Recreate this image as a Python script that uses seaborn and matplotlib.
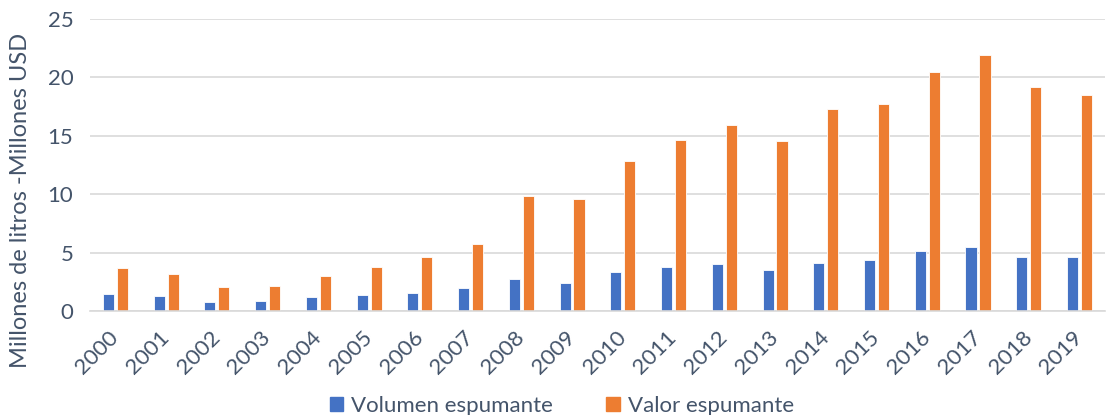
import pandas as pd
import matplotlib
matplotlib.use('Agg')
import matplotlib.pyplot as plt
import seaborn as sns
from matplotlib.patches import Patch

sns.set_style('white')
plt.rcParams['font.family'] = ['Lato', 'DejaVu Sans']

# datos
anios = ['2000', '2001', '2002', '2003', '2004', '2005', '2006', '2007', '2008', '2009',
         '2010', '2011', '2012', '2013', '2014', '2015', '2016', '2017', '2018', '2019']
volumen = [1.49, 1.32, 0.80, 0.83, 1.17, 1.40, 1.58, 1.95, 2.75, 2.43,
           3.32, 3.80, 4.00, 3.49, 4.09, 4.35, 5.12, 5.46, 4.60, 4.60]
valor = [3.66, 3.20, 2.03, 2.12, 3.03, 3.80, 4.60, 5.75, 9.86, 9.58,
         12.87, 14.64, 15.90, 14.55, 17.27, 17.75, 20.47, 21.90, 19.19, 18.52]
series = ['Volumen espumante', 'Valor espumante']
colores = ['#4472C4', '#ED7D31']
texto = '#44546A'

df = pd.DataFrame({
    'anio': anios * 2,
    'valor': volumen + valor,
    'serie': [series[0]] * len(anios) + [series[1]] * len(anios),
})

fig = plt.figure(figsize=(11.06, 4.15), dpi=100)
ax = fig.add_axes([0.0814, 0.2506, 0.9176, 0.7034])

sns.barplot(data=df, x='anio', y='valor', hue='serie', order=anios, hue_order=series,
            palette=colores, saturation=1, width=0.55, gap=0.2, edgecolor='white',
            linewidth=0.6, legend=False, ax=ax)

ax.set_ylim(0, 25)
ax.set_yticks(range(0, 26, 5))
ax.set_xlim(-0.5, len(anios) - 0.5)
ax.yaxis.grid(True, color='#D9D9D9', linewidth=1.2)
ax.set_axisbelow(True)
for s in ['top', 'right', 'left']:
    ax.spines[s].set_visible(False)
ax.spines['bottom'].set_color('#D9D9D9')
ax.spines['bottom'].set_linewidth(1.2)
ax.tick_params(axis='both', length=0, labelsize=16, labelcolor=texto)
ax.tick_params(axis='y', pad=12)
ax.tick_params(axis='x', pad=17)
plt.setp(ax.get_xticklabels(), rotation=45, ha='right', va='center',
         rotation_mode='anchor')
ax.set_xlabel('')
ax.set_ylabel('Millones de litros -Millones USD', fontsize=17, color=texto)
ax.yaxis.set_label_coords(-0.058, 0.38)

handles = [Patch(color=c, label=l) for c, l in zip(colores, series)]
fig.legend(handles=handles, loc='lower center', bbox_to_anchor=(0.508, -0.05), ncol=2,
           frameon=False, fontsize=16, labelcolor=texto, handlelength=0.6,
           handleheight=0.6, handletextpad=0.35, columnspacing=2.4)

fig.savefig('out.png', dpi=100)
